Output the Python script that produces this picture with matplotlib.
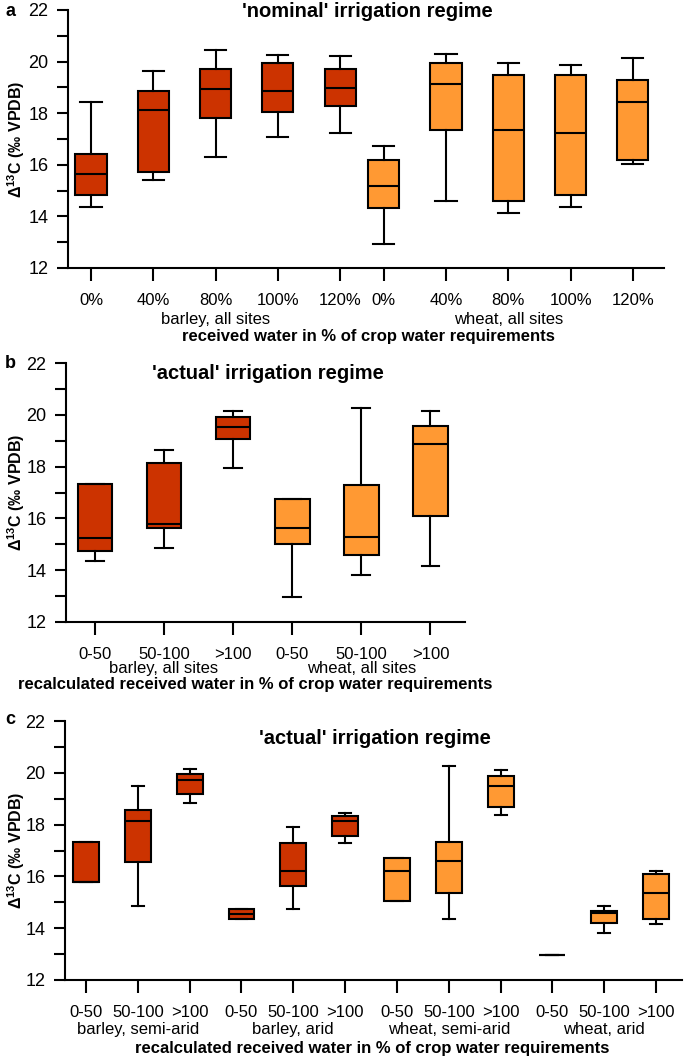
import matplotlib
matplotlib.use("Agg")
import matplotlib.pyplot as plt

plt.rcParams['font.family'] = ['Liberation Sans', 'DejaVu Sans']
plt.rcParams['mathtext.default'] = 'regular'

BARLEY = '#cc3300'
WHEAT = '#ff9933'

# panel a: 'nominal' irrigation regime
a_ticks = ['0%', '40%', '80%', '100%', '120%', '0%', '40%', '80%', '100%', '120%']
a_crop = ['barley'] * 5 + ['wheat'] * 5
a_low = [14.35, 15.42, 16.31, 17.06, 17.24, 12.93, 14.59, 14.14, 14.36, 16.04]
a_q1 = [14.84, 15.73, 17.81, 18.06, 18.27, 14.34, 17.34, 14.59, 14.83, 16.19]
a_med = [15.65, 18.13, 18.92, 18.86, 18.98, 15.19, 19.12, 17.33, 17.25, 18.45]
a_q3 = [16.43, 18.86, 19.70, 19.94, 19.72, 16.18, 19.96, 19.47, 19.47, 19.30]
a_high = [18.45, 19.64, 20.46, 20.26, 20.23, 16.74, 20.28, 19.95, 19.87, 20.13]
a_groups = ['barley, all sites', 'wheat, all sites']

# panel b: 'actual' irrigation regime, all sites
b_ticks = ['0-50', '50-100', '>100', '0-50', '50-100', '>100']
b_crop = ['barley'] * 3 + ['wheat'] * 3
b_low = [14.37, 14.86, 17.96, 12.95, 13.80, 14.16]
b_q1 = [14.74, 15.63, 19.05, 15.02, 14.60, 16.11]
b_med = [15.26, 15.78, 19.52, 15.62, 15.29, 18.87]
b_q3 = [17.34, 18.15, 19.92, 16.75, 17.28, 19.58]
b_high = [17.34, 18.65, 20.13, 16.75, 20.28, 20.13]
b_groups = ['barley, all sites', 'wheat, all sites']

# panel c: 'actual' irrigation regime, by climate
c_ticks = ['0-50', '50-100', '>100'] * 4
c_crop = ['barley'] * 6 + ['wheat'] * 6
c_low = [15.78, 14.86, 18.85, 14.37, 14.73, 17.29, 15.04, 14.36, 18.36, 12.95, 13.80, 14.15]
c_q1 = [15.78, 16.54, 19.18, 14.37, 15.62, 17.57, 15.04, 15.36, 18.69, 12.95, 14.21, 14.37]
c_med = [15.78, 18.15, 19.71, 14.54, 16.21, 18.14, 16.21, 16.59, 19.48, 12.95, 14.60, 15.35]
c_q3 = [17.33, 18.58, 19.94, 14.73, 17.30, 18.34, 16.72, 17.33, 19.86, 12.95, 14.65, 16.08]
c_high = [17.33, 19.50, 20.13, 14.73, 17.92, 18.44, 16.72, 20.25, 20.12, 12.95, 14.86, 16.21]
c_groups = ['barley, semi-arid', 'barley, arid', 'wheat, semi-arid', 'wheat, arid']

W, H = 685, 1061
fig = plt.figure(figsize=(W / 100, H / 100), dpi=100)


def panel(left, top, right, bottom, pos, low, q1, med, q3, high, crop, ticks, xlim, capw):
    # axes box given in picture pixels
    ax = fig.add_axes([left / W, 1 - bottom / H, (right - left) / W, (bottom - top) / H])
    stats = []
    for i in range(len(pos)):
        stats.append(dict(whislo=low[i], q1=q1[i], med=med[i], q3=q3[i], whishi=high[i], fliers=[]))
    res = ax.bxp(stats, positions=pos, widths=0.5, capwidths=capw, patch_artist=True,
                 showfliers=False,
                 boxprops=dict(edgecolor='black', linewidth=1.5),
                 medianprops=dict(color='black', linewidth=1.5),
                 whiskerprops=dict(color='black', linewidth=1.5),
                 capprops=dict(color='black', linewidth=1.5))
    for b, c in zip(res['boxes'], crop):
        b.set_facecolor(BARLEY if c == 'barley' else WHEAT)
    ax.set_ylim(12, 22)
    ax.set_xlim(*xlim)
    ax.set_yticks([12, 14, 16, 18, 20, 22])
    ax.set_yticks([13, 15, 17, 19, 21], minor=True)
    ax.set_xticks(pos)
    ax.set_xticklabels(ticks)
    for s in ['top', 'right']:
        ax.spines[s].set_visible(False)
    for s in ['left', 'bottom']:
        ax.spines[s].set_linewidth(1.5)
    ax.tick_params(axis='y', which='both', direction='out', length=8, width=1.5, labelsize=13, pad=6)
    ax.tick_params(axis='x', direction='out', length=9, width=1.5, labelsize=12, pad=9)
    ax.set_ylabel('Δ$^{13}$C (‰ VPDB)', fontsize=11.5, fontweight='bold', va='center', ha='center')
    ax.yaxis.set_label_coords((16 - left) / (right - left), 0.5)
    return ax


# --- a ---
a_pos = [1, 2, 3, 4, 5, 5.7, 6.7, 7.7, 8.7, 9.7]
ax = panel(68, 10, 664, 268, a_pos,
           a_low, a_q1, a_med, a_q3, a_high, a_crop, a_ticks, (0.63, 10.2), 0.34)
ax.text(0.503, 0.993, "'nominal' irrigation regime", transform=ax.transAxes,
        ha='center', va='center', fontsize=14.5, fontweight='bold')
for x, g in zip([3, 7.7], a_groups):
    ax.text(x, -0.2, g, transform=ax.get_xaxis_transform(), ha='center', va='center', fontsize=12)
fig.text(368 / W, 1 - 337 / H, 'received water in % of crop water requirements',
         ha='center', va='center', fontsize=12, fontweight='bold')
fig.text(10 / W, 1 - 12 / H, 'a', ha='center', va='center', fontsize=13, fontweight='bold')

# --- b ---
b_pos = [1, 2, 3, 3.86, 4.86, 5.86]
ax = panel(66, 363, 465, 622, b_pos,
           b_low, b_q1, b_med, b_q3, b_high, b_crop, b_ticks, (0.58, 6.36), 0.26)
ax.text(0.506, 0.96, "'actual' irrigation regime", transform=ax.transAxes,
        ha='center', va='center', fontsize=14.5, fontweight='bold')
for x, g in zip([2, 4.86], b_groups):
    ax.text(x, -0.178, g, transform=ax.get_xaxis_transform(), ha='center', va='center', fontsize=12)
fig.text(255 / W, 1 - 685 / H, 'recalculated received water in % of crop water requirements',
         ha='center', va='center', fontsize=12, fontweight='bold')
fig.text(10 / W, 1 - 363 / H, 'b', ha='center', va='center', fontsize=13, fontweight='bold')

# --- c ---
c_pos = list(range(1, 13))
ax = panel(65, 721, 682, 980, c_pos,
           c_low, c_q1, c_med, c_q3, c_high, c_crop, c_ticks, (0.595, 12.5), 0.23)
ax.text(0.502, 0.934, "'actual' irrigation regime", transform=ax.transAxes,
        ha='center', va='center', fontsize=14.5, fontweight='bold')
for x, g in zip([2, 5, 8, 11], c_groups):
    ax.text(x, -0.193, g, transform=ax.get_xaxis_transform(), ha='center', va='center', fontsize=12)
fig.text(372 / W, 1 - 1048 / H, 'recalculated received water in % of crop water requirements',
         ha='center', va='center', fontsize=12, fontweight='bold')
fig.text(10 / W, 1 - 720 / H, 'c', ha='center', va='center', fontsize=13, fontweight='bold')

fig.savefig('out.png', dpi=100)
